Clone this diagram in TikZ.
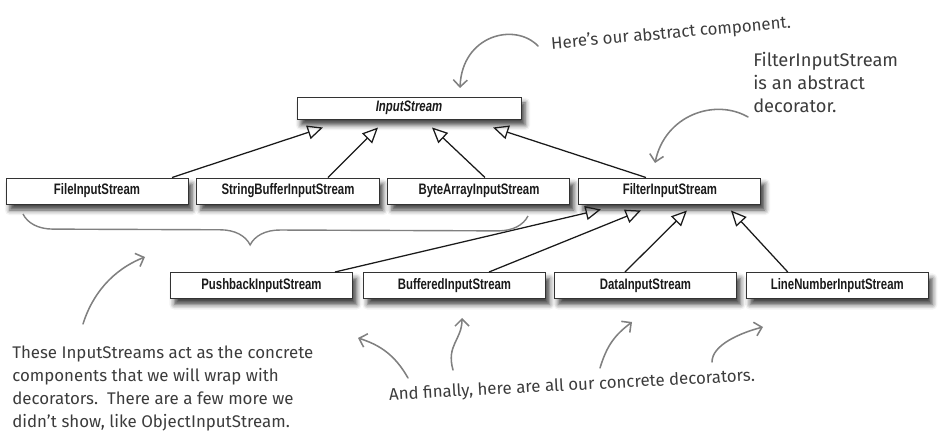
\documentclass[tikz,border=0pt]{standalone}
\usepackage{fontspec}
\setmainfont{Fira Sans}
\newfontfamily\classfont[FakeStretch=0.75]{Liberation Sans}
\usetikzlibrary{arrows.meta,calc,positioning,decorations.pathreplacing,shadows.blur}
\definecolor{dsink}{HTML}{1A1A1A}
\definecolor{dsframe}{HTML}{333333}
\definecolor{dspen}{HTML}{3C3C3C}
\definecolor{dsgray}{HTML}{808080}
\tikzset{
  ds class/.style={draw=dsframe, line width=0.7pt, fill=white,
    minimum width=45.5mm, minimum height=6.5mm, inner sep=0pt,
    font=\classfont\fontsize{10.8}{12}\selectfont\bfseries, text=dsink,
    blur shadow={shadow xshift=1mm, shadow yshift=-1.5mm,
      shadow blur radius=1.3mm, shadow opacity=75}},
  ds inherit/.style={-{Triangle[open, length=11pt, width=10pt]},
    line width=0.9pt, draw=dsink},
  ds hand/.style={font=\fontsize{12}{16.2}\selectfont, text=dspen,
    inner sep=0pt, align=left},
  ds pencil/.style={-{Straight Barb[length=5pt, width=10pt]},
    line width=1.1pt, draw=dsgray, line cap=round},
  ds brace/.style={decorate, decoration={brace, mirror, amplitude=7.5mm,
    aspect=0.45}, line width=1pt, draw=dsgray}
}

\begin{document}
\begin{tikzpicture}[x=0.25mm, y=-0.25mm]
  \useasboundingbox (0,0) rectangle (944,440);

  % abstract component
  \node[ds class, minimum width=56mm, minimum height=5.5mm,
    font=\classfont\fontsize{10.8}{12}\selectfont\bfseries\itshape] (input) at (409,108) {InputStream};

  % concrete components and the decorator base
  \node[ds class] (file) at (97,191) {FileInputStream};
  \node[ds class, right=2mm of file] (string) {StringBufferInputStream};
  \node[ds class, right=2mm of string] (bytes) {ByteArrayInputStream};
  \node[ds class, right=2mm of bytes] (filter) {FilterInputStream};

  % concrete decorators
  \node[ds class] (pushback) at (261.5,285.5) {PushbackInputStream};
  \node[ds class, right=2.5mm of pushback] (buffered) {BufferedInputStream};
  \node[ds class, right=2mm of buffered] (data) {DataInputStream};
  \node[ds class, right=2.2mm of data] (linenum) {LineNumberInputStream};

  \draw[ds inherit] ($(file.north)+(75,0)$) -- ($(input.south)+(-86,8)$);
  \draw[ds inherit] ($(string.north)+(40,0)$) -- ($(input.south)+(-31,8)$);
  \draw[ds inherit] ($(bytes.north)+(6,0)$) -- ($(input.south)+(23,8)$);
  \draw[ds inherit] ($(filter.north)+(-24,0)$) -- ($(input.south)+(84,8)$);

  \draw[ds inherit] ($(pushback.north)+(73.5,0)$) -- ($(filter.south)+(-69,5)$);
  \draw[ds inherit] ($(buffered.north)+(34.5,0)$) -- ($(filter.south)+(-29,6)$);
  \draw[ds inherit] ($(data.north)+(-20.5,0)$) -- ($(filter.south)+(17,6)$);
  \draw[ds inherit] ($(linenum.north)+(-49.5,0)$) -- ($(filter.south)+(61,6)$);

  % handwritten notes
  \node[ds hand, rotate=5] (abstract note) at (671,34) {Here’s our abstract component.};
  \node[ds hand, anchor=north west, font=\fontsize{13}{16.5}\selectfont] (filter note) at (753,52)
    {FilterInputStream\\is an abstract\\decorator.};
  \node[ds hand, anchor=north west] (concrete note) at (12,346)
    {These InputStreams act as the concrete\\components that we will wrap with\\decorators.\ \ There are a few more we\\didn’t show, like ObjectInputStream.};
  \node[ds hand, rotate=3] (decorator note) at (572,386)
    {And finally, here are all our concrete decorators.};

  \coordinate (brace l) at (23,214);
  \coordinate (brace r) at (528,216);
  \draw[ds brace] (brace l) -- (brace r);

  \coordinate (abstract tip) at (460,88);
  \coordinate (filter tip) at (655,163);
  \coordinate (brace tip) at (145,257);
  \coordinate (deco tip a) at (358,338);
  \coordinate (deco tip b) at (462,318);
  \coordinate (deco tip c) at (632,322);
  \coordinate (deco tip d) at (763,327);

  \draw[ds pencil] (538,46) .. controls (515,22) and (462,35) .. (abstract tip);
  \draw[ds pencil] (748,117) .. controls (715,98) and (665,115) .. (filter tip);
  \draw[ds pencil] (83,324) .. controls (92,295) and (112,270) .. (brace tip);
  \draw[ds pencil] (408,378) .. controls (395,355) and (380,345) .. (deco tip a);
  \draw[ds pencil] (453,370) .. controls (446,345) and (462,340) .. (deco tip b);
  \draw[ds pencil] (600,368) .. controls (607,345) and (615,335) .. (deco tip c);
  \draw[ds pencil] (712,362) .. controls (712,345) and (740,333) .. (deco tip d);
\end{tikzpicture}
\end{document}
